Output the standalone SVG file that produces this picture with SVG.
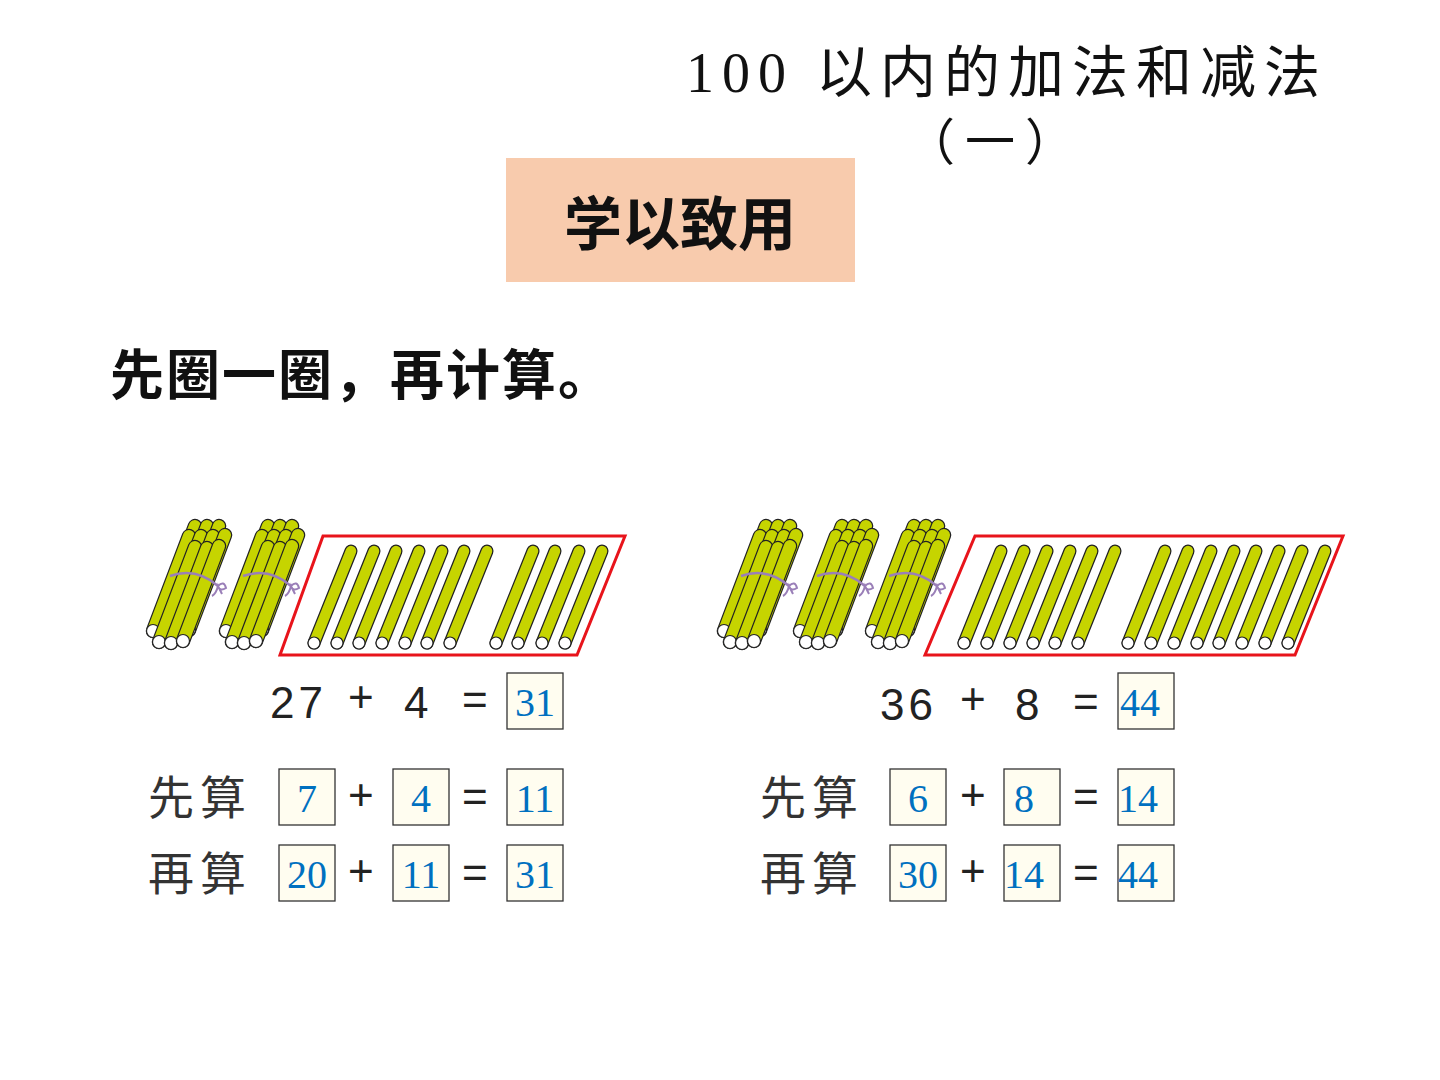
<svg xmlns="http://www.w3.org/2000/svg" xmlns:xlink="http://www.w3.org/1999/xlink" width="1440" height="1080" viewBox="0 0 1440 1080">
<style>
.t{font-family:"Liberation Serif","Noto Sans CJK SC",serif;fill:#111}
.b{font-family:"Noto Sans CJK SC",sans-serif;font-weight:bold;fill:#111}
.eq{font-family:"Liberation Sans",sans-serif;font-size:44px;fill:#222}
.lb{font-family:"Noto Sans CJK SC",serif;font-size:46px;fill:#333;letter-spacing:6px}
.bx{fill:#FFFDF0;stroke:#333;stroke-width:1.3}
.n{font-family:"Liberation Serif",serif;font-size:40px;fill:#0070C0;text-anchor:middle}
.red{fill:none;stroke:#E8141B;stroke-width:3}
</style>
<defs>
<g id="s">
<line x1="0" y1="0" x2="37" y2="-92" stroke="#222" stroke-width="13" stroke-linecap="round"/>
<line x1="0" y1="0" x2="37" y2="-92" stroke="#C6D400" stroke-width="10.5" stroke-linecap="round"/>
<circle cx="0" cy="0" r="6" fill="#fff" stroke="#222" stroke-width="1.2"/>
</g>
<g id="bs">
<line x1="0" y1="0" x2="36" y2="-95" stroke="#222" stroke-width="14.5" stroke-linecap="round"/>
<line x1="0" y1="0" x2="36" y2="-95" stroke="#C6D400" stroke-width="12" stroke-linecap="round"/>
<circle cx="0" cy="0" r="6.5" fill="#fff" stroke="#222" stroke-width="1.2"/>
</g>
<g id="bd">
<use href="#bs" x="7" y="-22"/><use href="#bs" x="19" y="-22"/><use href="#bs" x="31" y="-22"/>
<use href="#bs" x="1" y="-12"/><use href="#bs" x="13" y="-12"/><use href="#bs" x="25" y="-12"/><use href="#bs" x="37" y="-13"/>
<use href="#bs" x="7" y="-1"/><use href="#bs" x="19" y="0"/><use href="#bs" x="31" y="-2"/>
<path d="M18,-67 Q44,-76 66,-57" fill="none" stroke="#9A7FB8" stroke-width="2.5"/>
<path d="M66,-57 q6,-6 8,2 q-6,4 -8,-2 q-2,8 -6,10 M66,-57 l4,8" fill="none" stroke="#9A7FB8" stroke-width="2"/>
</g>
</defs>
<rect width="1440" height="1080" fill="#fff"/>
<text class="t" x="686" y="92" font-size="56" letter-spacing="8">100 以内的加法和减法</text>
<text class="t" x="995" y="160" font-size="50" text-anchor="middle" letter-spacing="10">（一）</text>
<rect x="506" y="158" width="349" height="124" fill="#F8CBAD"/>
<text class="b" x="680" y="245" font-size="58" text-anchor="middle">学以致用</text>
<text class="b" x="110" y="395" font-size="54" letter-spacing="2">先圈一圈，再计算。</text>

<g id="left-sticks">
<use href="#bd" x="152" y="643"/><use href="#bd" x="225" y="643"/>
<polygon class="red" points="323,536 625,536 577,655 280,655"/>
<use href="#s" x="314" y="643"/><use href="#s" x="337" y="643"/><use href="#s" x="359" y="643"/><use href="#s" x="382" y="643"/><use href="#s" x="405" y="643"/><use href="#s" x="427" y="643"/><use href="#s" x="450" y="643"/>
<use href="#s" x="496" y="643"/><use href="#s" x="518" y="643"/><use href="#s" x="542" y="643"/><use href="#s" x="565" y="643"/>
</g>
<g id="right-sticks">
<use href="#bd" x="723" y="643"/><use href="#bd" x="799" y="643"/><use href="#bd" x="871" y="643"/>
<polygon class="red" points="975,536 1343,536 1295,655 925,655"/>
<use href="#s" x="964" y="643"/><use href="#s" x="987" y="643"/><use href="#s" x="1010" y="643"/><use href="#s" x="1033" y="643"/><use href="#s" x="1055" y="643"/><use href="#s" x="1078" y="643"/>
<use href="#s" x="1128" y="643"/><use href="#s" x="1151" y="643"/><use href="#s" x="1174" y="643"/><use href="#s" x="1197" y="643"/><use href="#s" x="1219" y="643"/><use href="#s" x="1242" y="643"/><use href="#s" x="1265" y="643"/><use href="#s" x="1288" y="643"/>
</g>

<g id="left-eq">
<text class="eq" x="270" y="718" letter-spacing="4">27</text><text class="eq" x="348" y="712">+</text><text class="eq" x="404" y="718">4</text><text class="eq" x="462" y="715">=</text>
<rect class="bx" x="507" y="673" width="56" height="56"/><text class="n" x="535" y="716">31</text>
<text class="lb" x="148" y="814">先算</text>
<rect class="bx" x="279" y="769" width="56" height="56"/><text class="n" x="307" y="812">7</text>
<text class="eq" x="348" y="810">+</text>
<rect class="bx" x="393" y="769" width="56" height="56"/><text class="n" x="421" y="812">4</text>
<text class="eq" x="462" y="812">=</text>
<rect class="bx" x="507" y="769" width="56" height="56"/><text class="n" x="535" y="812">11</text>
<text class="lb" x="148" y="890">再算</text>
<rect class="bx" x="279" y="845" width="56" height="56"/><text class="n" x="307" y="888">20</text>
<text class="eq" x="348" y="886">+</text>
<rect class="bx" x="393" y="845" width="56" height="56"/><text class="n" x="421" y="888">11</text>
<text class="eq" x="462" y="888">=</text>
<rect class="bx" x="507" y="845" width="56" height="56"/><text class="n" x="535" y="888">31</text>
</g>
<g id="right-eq">
<text class="eq" x="880" y="720" letter-spacing="4">36</text><text class="eq" x="960" y="714">+</text><text class="eq" x="1015" y="720">8</text><text class="eq" x="1073" y="717">=</text>
<rect class="bx" x="1118" y="673" width="56" height="56"/><text class="n" x="1140" y="716">44</text>
<text class="lb" x="760" y="814">先算</text>
<rect class="bx" x="890" y="769" width="56" height="56"/><text class="n" x="918" y="812">6</text>
<text class="eq" x="960" y="810">+</text>
<rect class="bx" x="1004" y="769" width="56" height="56"/><text class="n" x="1024" y="812">8</text>
<text class="eq" x="1073" y="812">=</text>
<rect class="bx" x="1118" y="769" width="56" height="56"/><text class="n" x="1138" y="812">14</text>
<text class="lb" x="760" y="890">再算</text>
<rect class="bx" x="890" y="845" width="56" height="56"/><text class="n" x="918" y="888">30</text>
<text class="eq" x="960" y="886">+</text>
<rect class="bx" x="1004" y="845" width="56" height="56"/><text class="n" x="1024" y="888">14</text>
<text class="eq" x="1073" y="888">=</text>
<rect class="bx" x="1118" y="845" width="56" height="56"/><text class="n" x="1138" y="888">44</text>
</g>
</svg>
